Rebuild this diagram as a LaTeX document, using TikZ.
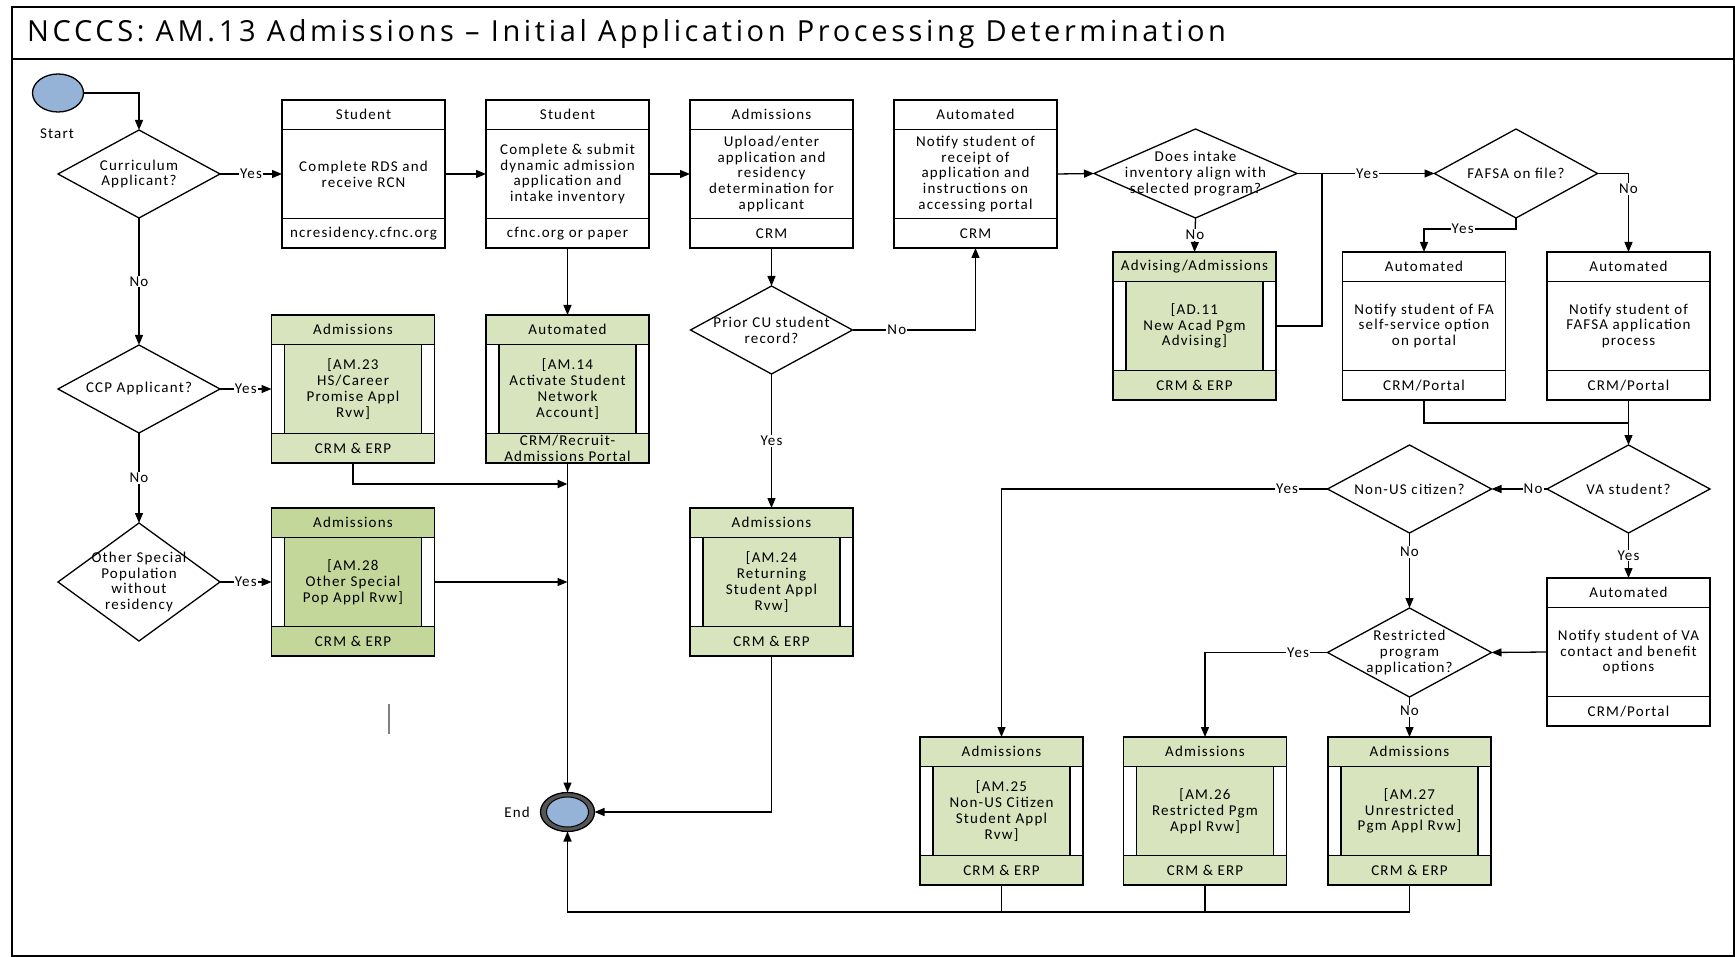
\documentclass[tikz,border=0pt]{standalone}
\usepackage{fontspec}
\newfontfamily\boxfamily{Carlito}[LetterSpace=8]
\newfontfamily\titlefamily{Open Sans}[LetterSpace=12.5]
\usetikzlibrary{shapes.geometric,arrows.meta,calc}

\definecolor{subfill}{HTML}{D7E4BD}
\definecolor{subfilldark}{HTML}{C4D79B}
\definecolor{termfill}{HTML}{95B3D7}
\definecolor{ringgrey}{HTML}{555555}

\newcommand\boxfont{\boxfamily\fontsize{15}{15.8}\selectfont}

\tikzset{
  boxframe/.style={draw=black, line width=1.6pt, rectangle, minimum width=163pt,
    minimum height=148pt, inner sep=0pt, outer sep=0pt},
  divline/.style={line width=1.6pt},
  txt/.style={align=center, font=\boxfont, inner sep=0pt},
  decision/.style={draw=black, line width=1.3pt, diamond, inner sep=0pt, outer sep=0pt, fill=white},
  conn/.style={line width=1.3pt, -{Triangle[length=10pt,width=8pt]}},
  plainline/.style={line width=1.3pt},
  lbl/.style={fill=white, inner sep=1pt, font=\boxfont},
}

% task box: name, centre x, top y, header, body, footer
\newcommand\plainbox[6]{%
  \node[boxframe, fill=white] (#1) at (#2,#3+74) {};
  \draw[divline] ([yshift=-29.5pt]#1.north west) -- ([yshift=-29.5pt]#1.north east);
  \draw[divline] ([yshift=29.5pt]#1.south west) -- ([yshift=29.5pt]#1.south east);
  \node[txt] (#1h) at ([yshift=-14.75pt]#1.north) {#4};
  \node[txt] (#1b) at (#1.center) {#5};
  \node[txt] (#1f) at ([yshift=14.75pt]#1.south) {#6};
}

% sub-process box: name, centre x, top y, fill, header, body, footer
\newcommand\subbox[7]{%
  \node[boxframe, fill=#4] (#1) at (#2,#3+74) {};
  \fill[white] ([yshift=-29.5pt]#1.north west) rectangle ([yshift=29.5pt]#1.south east);
  \draw[divline, fill=#4] ([xshift=13pt,yshift=-29.5pt]#1.north west)
    rectangle ([xshift=-13pt,yshift=29.5pt]#1.south east);
  \draw[divline] ([yshift=-29.5pt]#1.north west) -- ([yshift=-29.5pt]#1.north east);
  \draw[divline] ([yshift=29.5pt]#1.south west) -- ([yshift=29.5pt]#1.south east);
  \draw[line width=1.6pt] (#1.north west) rectangle (#1.south east);
  \node[txt] (#1h) at ([yshift=-14.75pt]#1.north) {#5};
  \node[txt] (#1b) at (#1.center) {#6};
  \node[txt] (#1f) at ([yshift=14.75pt]#1.south) {#7};
}

% decision: name, centre, width, height, text
\newcommand\decide[5]{%
  \node[decision, minimum width=#3pt, minimum height=#4pt] (#1) at (#2) {};
  \node[txt] (#1t) at (#1.center) {#5};
}

\begin{document}
\begin{tikzpicture}[x=1pt,y=-1pt]
\useasboundingbox (0,0) rectangle (1735,957);

% outer frame and title band
\draw[line width=2pt] (11.5,7.5) rectangle (1733.5,955.5);
\draw[line width=1.6pt] (11.5,59) -- (1733.5,59);
\node[anchor=west, inner sep=0pt, font=\titlefamily\fontsize{29}{33}\selectfont] (title) at (27,34)
  {NCCCS: AM.13 Admissions \textendash{} Initial Application Processing Determination};

% start / end events
\node[ellipse, draw=black, line width=1.3pt, fill=termfill, minimum width=51pt, minimum height=38pt,
  inner sep=0pt, outer sep=0pt] (start) at (58,93) {};
\node[txt] (startlbl) at (57,134) {Start};
\node[ellipse, draw=black, line width=1.3pt, fill=ringgrey, minimum width=54pt, minimum height=39pt,
  inner sep=0pt, outer sep=0pt] (stop) at (567.5,812) {};
\node[ellipse, draw=black, line width=1pt, fill=termfill, minimum width=42pt, minimum height=30pt,
  inner sep=0pt] (stopin) at (stop.center) {};
\node[txt] (stoplbl) at (517,812) {End};

% decisions
\decide{cur}{139,174}{162}{88}{Curriculum\\Applicant?}
\decide{ccp}{139,389}{162}{88}{CCP Applicant?}
\decide{other}{139,582}{162}{118}{Other Special\\Population\\without\\residency}
\decide{prior}{771.5,330}{162}{88}{Prior CU student\\record?}
\decide{intake}{1195.5,173.5}{203}{89}{Does intake\\inventory align with\\selected program?}
\decide{fafsa}{1516,173.5}{163}{89}{FAFSA on file?}
\decide{va}{1628.5,489}{163}{88}{VA student?}
\decide{nonus}{1409.5,489}{164}{88}{Non-US citizen?}
\decide{restr}{1409.5,652.5}{164}{89}{Restricted\\program\\application?}

% task boxes
\plainbox{b1}{363.5}{100}{Student}{Complete RDS and\\receive RCN}{ncresidency.cfnc.org}
\plainbox{b2}{567.5}{100}{Student}{Complete \& submit\\dynamic admission\\application and\\intake inventory}{cfnc.org or paper}
\plainbox{b3}{771.5}{100}{Admissions}{Upload/enter\\application and\\residency\\determination for\\applicant}{CRM}
\plainbox{b4}{975.5}{100}{Automated}{Notify student of\\receipt of\\application and\\instructions on\\accessing portal}{CRM}
\plainbox{fa1}{1424}{252}{Automated}{Notify student of FA\\self-service option\\on portal}{CRM/Portal}
\plainbox{fa2}{1628.5}{252}{Automated}{Notify student of\\FAFSA application\\process}{CRM/Portal}
\plainbox{vab}{1628.5}{578}{Automated}{Notify student of VA\\contact and benefit\\options}{CRM/Portal}

% sub-process boxes
\subbox{ad11}{1194.5}{252}{subfill}{Advising/Admissions}{[AD.11\\New Acad Pgm\\Advising]}{CRM \& ERP}
\subbox{am23}{353}{315}{subfill}{Admissions}{[AM.23\\HS/Career\\Promise Appl\\Rvw]}{CRM \& ERP}
\subbox{am14}{567.5}{315}{subfill}{Automated}{[AM.14\\Activate Student\\Network\\Account]}{CRM/Recruit-\\Admissions Portal}
\subbox{am28}{353}{508}{subfilldark}{Admissions}{[AM.28\\Other Special\\Pop Appl Rvw]}{CRM \& ERP}
\subbox{am24}{771.5}{508}{subfill}{Admissions}{[AM.24\\Returning\\Student Appl\\Rvw]}{CRM \& ERP}
\subbox{am25}{1001.5}{737}{subfill}{Admissions}{[AM.25\\Non-US Citizen\\Student Appl\\Rvw]}{CRM \& ERP}
\subbox{am26}{1205}{737}{subfill}{Admissions}{[AM.26\\Restricted Pgm\\Appl Rvw]}{CRM \& ERP}
\subbox{am27}{1409.5}{737}{subfill}{Admissions}{[AM.27\\Unrestricted\\Pgm Appl Rvw]}{CRM \& ERP}

% junction points
\coordinate (aj) at (1322,173.5);
\coordinate (vj) at (1628.5,423);
\coordinate (bl) at (567.5,912);
\coordinate (j23) at (567.5,484);

% connectors: left column
\draw[conn] (start.east) -| (cur.north);
\draw[conn] (cur.east) -- node[lbl]{Yes} (b1.west);
\draw[conn] (cur.south) -- node[lbl]{No} (ccp.north);
\draw[conn] (ccp.east) -- node[lbl]{Yes} (am23.west);
\draw[conn] (ccp.south) -- node[lbl]{No} (other.north);
\draw[conn] (other.east) -- node[lbl]{Yes} (am28.west);

% connectors: top row
\draw[conn] (b1.east) -- (b2.west);
\draw[conn] (b2.east) -- (b3.west);
\draw[conn] (b2.south) -- (am14.north);
\draw[conn] (b3.south) -- (prior.north);
\draw[conn] (prior.east) -| node[lbl,pos=0.18]{No} (b4.south);
\draw[conn] (prior.south) -- node[lbl]{Yes} (am24.north);
\draw[conn] (b4.east) -- (intake.west);
\draw[conn] (intake.south) -- node[lbl]{No} (ad11.north);
\draw[conn] (intake.east) -- node[lbl,pos=0.51]{Yes} (fafsa.west);
\draw[plainline] (ad11.east) -| (aj);
\draw[conn] (fafsa.south) -- ++(0,11) -| node[lbl,pos=0.29]{Yes} (fa1.north);
\draw[conn] (fafsa.east) -| node[lbl,pos=0.6]{No} (fa2.north);

% connectors: financial aid and VA branch
\draw[plainline] (fa1.south) |- (vj);
\draw[conn] (fa2.south) -- (va.north);
\draw[conn] (va.west) -- node[lbl,pos=0.25]{No} (nonus.east);
\draw[conn] (va.south) -- node[lbl]{Yes} (vab.north);
\draw[conn] (vab.west) -- (restr.east);
\draw[conn] (nonus.west) -| node[lbl,pos=0.062]{Yes} (am25.north);
\draw[conn] (nonus.south) -- node[lbl,pos=0.25]{No} (restr.north);
\draw[conn] (restr.west) -| node[lbl,pos=0.12]{Yes} (am26.north);
\draw[conn] (restr.south) -- node[lbl,pos=0.35]{No} (am27.north);

% connectors into the end event
\draw[conn, line width=2pt] (am23.south) |- (j23);
\draw[conn] (am28.east) -- (am28.east -| am14.south);
\draw[conn] (am14.south) -- (stop.north);
\draw[conn] (am24.south) |- (stop.east);
\draw[plainline] (am25.south) -- (am25.south |- bl);
\draw[plainline] (am26.south) -- (am26.south |- bl);
\draw[conn] (am27.south) |- (bl) -- (stop.south);

% stray mark
\draw[line width=1.5pt, draw=gray] (389,704) -- (389,734);
\end{tikzpicture}
\end{document}
